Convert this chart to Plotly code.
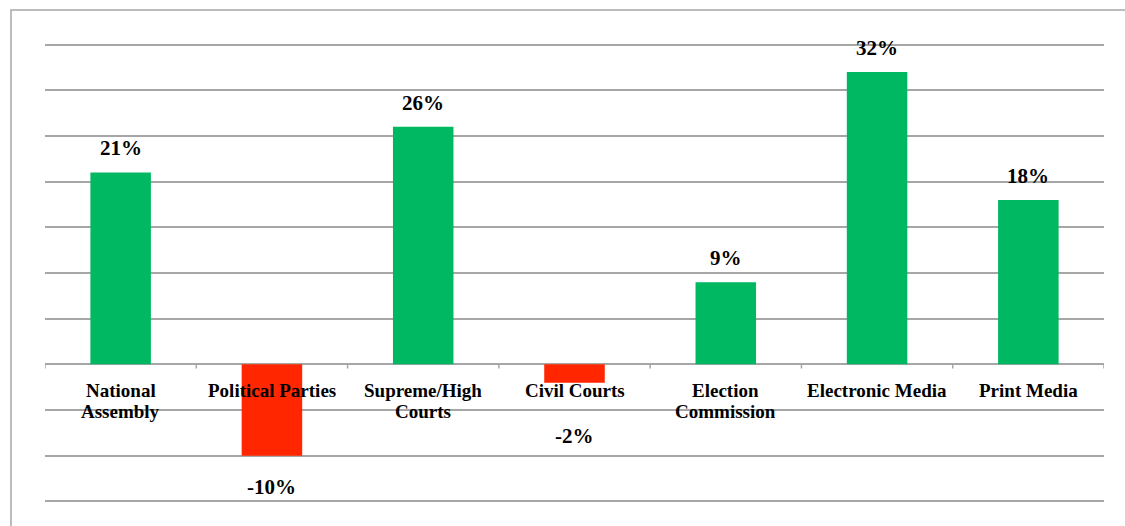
import plotly.graph_objects as go

categories = ["National<br>Assembly", "Political Parties", "Supreme/High<br>Courts",
              "Civil Courts", "Election<br>Commission", "Electronic Media", "Print Media"]
values = [21, -10, 26, -2, 9, 32, 18]
value_labels = ["21%", "-10%", "26%", "-2%", "9%", "32%", "18%"]

GREEN = "#00B862"
RED = "#FF2600"
GRID = "#A6A6A6"
FONT = "Liberation Serif"

colors = [GREEN if v >= 0 else RED for v in values]
xs = list(range(len(categories)))

fig = go.Figure()
fig.add_trace(go.Bar(x=xs, y=values, marker=dict(color=colors, line=dict(width=0)),
                     width=0.4, hoverinfo="skip"))

# tick marks at category boundaries on the zero line
tx, ty = [], []
for b in range(len(categories) + 1):
    tx += [b - 0.5, b - 0.5, None]
    ty += [0, -0.45, None]
fig.add_trace(go.Scatter(x=tx, y=ty, mode="lines", line=dict(color=GRID, width=1.5),
                         hoverinfo="skip"))

annotations = []
for x, c in zip(xs, categories):
    for i, line in enumerate(c.split("<br>")):
        annotations.append(dict(x=x, y=0, xref="x", yref="y", text="<b>%s</b>" % line,
                                showarrow=False, yanchor="middle", yshift=-26 - 21 * i,
                                font=dict(family=FONT, size=19, color="black")))
for x, v, t in zip(xs, values, value_labels):
    if v >= 0:
        shift = 24
    elif v > -5:
        shift = -53
    else:
        shift = -31
    annotations.append(dict(x=x, y=v, xref="x", yref="y", text="<b>%s</b>" % t,
                            showarrow=False, yanchor="middle", yshift=shift,
                            font=dict(family=FONT, size=21, color="black")))

fig.update_layout(
    width=1125, height=526,
    margin=dict(l=45, r=21, t=40, b=20),
    paper_bgcolor="white", plot_bgcolor="white",
    showlegend=False,
    annotations=annotations,
    xaxis=dict(range=[-0.5, 6.5], showticklabels=False, showgrid=False,
               zeroline=False, ticks="", fixedrange=True),
    yaxis=dict(range=[-15.5, 35.5], dtick=5, tick0=0, showticklabels=False,
               showgrid=True, gridcolor=GRID, gridwidth=1.5,
               zeroline=True, zerolinecolor=GRID, zerolinewidth=1.5, ticks=""),
    shapes=[dict(type="rect", xref="paper", yref="paper",
                 x0=(11 - 45) / 1059, x1=1.2, y0=-0.3, y1=1 + (40 - 10) / 466,
                 line=dict(color=GRID, width=1.5), layer="below")],
)

fig.write_html("out.html")
